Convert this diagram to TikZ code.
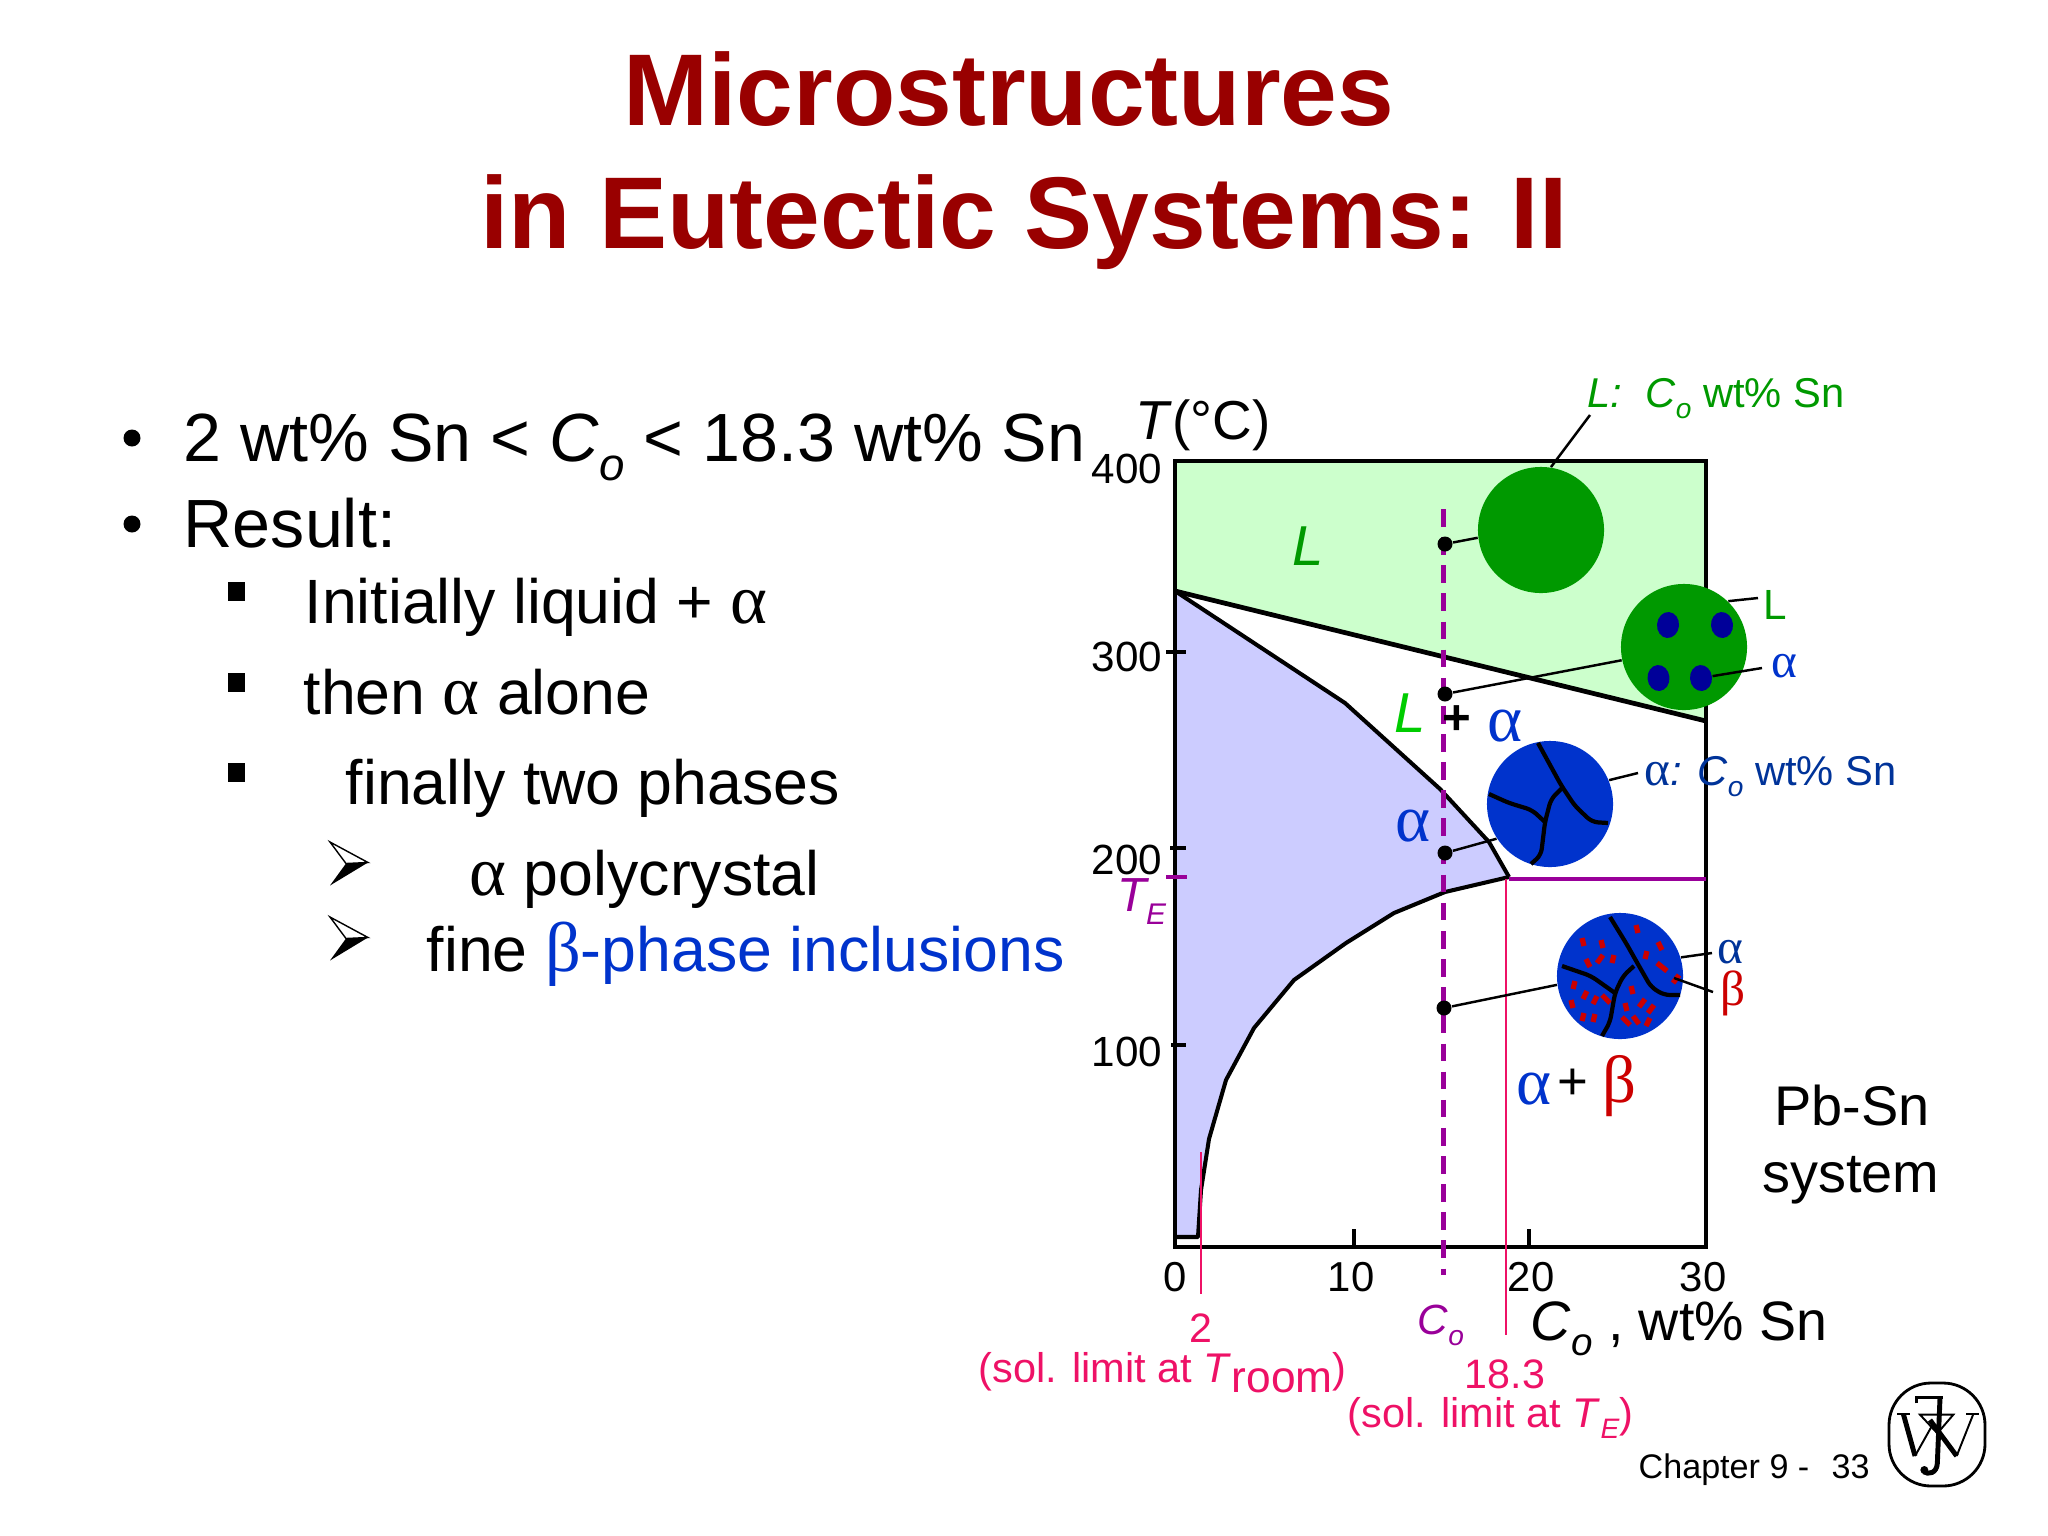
\documentclass[tikz,border=0pt]{standalone}
\usepackage{fontspec}
\setmainfont{Liberation Sans}
\newfontfamily\symb{Liberation Serif}
\usetikzlibrary{calc, shapes.geometric, arrows.meta, positioning}
\definecolor{titlered}{HTML}{990000}
\definecolor{liqgreen}{HTML}{CCFFCC}
\definecolor{solblue}{HTML}{CCCCFF}
\definecolor{grgreen}{HTML}{009900}
\definecolor{brgreen}{HTML}{00CC00}
\definecolor{grblue}{HTML}{0033CC}
\definecolor{navy}{HTML}{000099}
\definecolor{labblue}{HTML}{003399}
\definecolor{phred}{HTML}{CC0000}
\definecolor{purp}{HTML}{990099}
\definecolor{pink}{HTML}{EE1166}
\newcommand{\fs}[1]{\fontsize{#1}{#1}\selectfont}
\newcommand{\sbs}[2]{\raisebox{-0.28em}{\fs{#1}\textit{#2}}}
\newcommand{\grk}[1]{{\fs{20}\symb #1}}
\tikzset{
	txt/.style={inner sep=0pt, anchor=base west},
	ctr/.style={inner sep=0pt, anchor=base},
	rgt/.style={inner sep=0pt, anchor=base east},
	grain/.style={circle, minimum size=1.26cm, inner sep=0pt, fill=#1},
	blob/.style={ellipse, minimum width=0.22cm, minimum height=0.26cm, inner sep=0pt, fill=navy},
	dot/.style={circle, minimum size=0.15cm, inner sep=0pt, fill=black},
	leader/.style={line width=0.7pt},
	phase/.style={line width=1.15pt, line join=round},
	frame/.style={line width=1.35pt},
	boundary/.style={line width=1.2pt, line join=round, rounded corners=0.06cm},
	pinkline/.style={pink, line width=0.7pt}
}

\begin{document}
\begin{tikzpicture}[x=0.01cm, y=-0.01cm]
	\useasboundingbox (0,0) rectangle (2048,1536);

	\node[ctr, font=\fs{29}\bfseries, text=titlered] (title1) at (1009,125) {Microstructures};
	\node[ctr, font=\fs{29}\bfseries, text=titlered] (title2) at (1024,248) {in Eutectic Systems:\hspace{-1.4pt} II};

	\fill (132,438) circle (8.5);
	\fill (132,524) circle (8.5);
	\node[txt, font=\fs{19.4}] (item1) at (183,461) {2 wt\% Sn < \textit{C}\sbs{13}{o} < 18.3 wt\% Sn};
	\node[txt, font=\fs{19.4}] (item2) at (183,547) {Result:};
	\foreach \qy in {582,673,763}
		\fill (227.5,\qy) rectangle ++(17.5,18.5);
	\node[txt, font=\fs{17.8}] (sub1) at (304,623) {Initially liquid + \grk{α}};
	\node[txt, font=\fs{17.8}] (sub2) at (303,714) {then \grk{α} alone};
	\node[txt, font=\fs{17.8}] (sub3) at (345,804) {finally two phases};
	\foreach \ay in {842,917} {
		\draw[line width=0.4pt, fill=white] (330,\ay) -- (368,\ay+20.5) -- (346,\ay+21.5) -- cycle;
		\fill (330,\ay+43.5) -- (368,\ay+20.5) -- (346,\ay+21.5) -- cycle;
	}
	\node[txt, font=\fs{17.8}] (sub4) at (469,895) {\grk{α} polycrystal};
	\node[txt, font=\fs{17.8}] (sub5) at (426,971) {fine \textcolor{grblue}{\grk{β}-phase inclusions}};

	\fill[liqgreen] (1175,461) -- (1706,461) -- (1706,721) -- (1175,591) -- cycle;
	\fill[solblue] (1175,591) -- (1345,703) -- (1440,789) -- (1489,842) -- (1509,877)
		-- (1445,892) -- (1394,913) -- (1346,943) -- (1294,980) -- (1254,1028) -- (1226,1080)
		-- (1209,1139) -- (1201,1190) -- (1198,1237) -- (1175,1237) -- cycle;

	\draw[frame] (1175,461) rectangle (1706,1247);
	\draw[frame] (1175,591) -- (1706,721);
	\draw[phase] (1175,591) -- (1345,703) -- (1440,789) -- (1489,842) -- (1509,877);
	\draw[phase] (1509,877) -- (1445,892) -- (1394,913) -- (1346,943) -- (1294,980) -- (1254,1028)
		-- (1226,1080) -- (1209,1139) -- (1201,1190) -- (1198,1237) -- (1175,1237);
	\draw[purp, line width=1.1pt] (1509,879) -- (1706,879);

	\foreach \ty/\tx in {652/1166,848/1170,1045/1171}
		\draw[frame] (\tx,\ty) -- (1186,\ty);
	\foreach \tx in {1354,1529}
		\draw[frame] (\tx,1229) -- (\tx,1247);
	\draw[purp, frame] (1166,877) -- (1187,877);

	\foreach \ty/\lab in {483/400,671/300,874/200,1066/100}
		\node[rgt, font=\fs{12}] (ylab\lab) at (1163,\ty) {\lab};
	\foreach \tx/\lab in {1175/0,1351/10,1531/20,1703/30}
		\node[ctr, font=\fs{11.9}] (xlab\lab) at (\tx,1291) {\lab};

	\node[txt, font=\fs{15.6}] (ylabel) at (1135,439) {\textit{T}(°C)};
	\node[txt, font=\fs{15.8}] (xlabel) at (1530,1340) {\textit{C}\sbs{11}{o} , wt\% Sn};
	\node[txt, font=\fs{13.6}, text=purp] (telabel) at (1117,911) {\textit{T}\hspace{-1pt}\sbs{8.5}{E}};

	\draw[purp, line width=1.35pt, dash pattern=on 5pt off 3pt] (1443.5,509) -- (1443.5,1275);
	\draw[pinkline] (1201,1152) -- (1201,1294);
	\draw[pinkline] (1506,879) -- (1506,1335);

	\node[grain=grgreen] (circL) at (1541,530) {};
	\node[grain=grgreen] (circLA) at (1684,647) {};
	\node[grain=grblue] (circA) at (1550,804) {};
	\node[grain=grblue] (circAB) at (1620,976) {};

	\node[blob, rotate=-5] (blob1) at (1668,625) {};
	\node[blob, rotate=5] (blob2) at (1722,625) {};
	\node[blob, rotate=5] (blob3) at (1658.5,678) {};
	\node[blob, rotate=5] (blob4) at (1701,678) {};

	\draw[boundary] (1538,743) -- (1561,785) -- (1575,806) -- (1592,822) -- (1608,823);
	\draw[boundary] (1489,794) -- (1509,803) -- (1532,810) -- (1545,822);
	\draw[boundary] (1562,788) -- (1551,799) -- (1545,822) -- (1541,855) -- (1531,864);

	\foreach \sx/\sy/\sd in {1583/942/1,1602/944/1,1637/929/1,1660/946/2,1646/955/-1,1600/959/-3,1613/959/-1,1588/963/2,
		1662/967/5,1574/985/-1,1676/979/-3,1632/990/1,1585/995/-2,1595/1000/-2,1606/999/4,1572/1004/1,
		1626/1007/1,1642/1003/-3,1651/1009/-3,1594/1018/-1,1583/1017/-1,1626/1021/4,1636/1020/3,1648/1022/-2}
		\draw[phred, line width=1.5pt] (\sx-\sd,\sy-4) -- (\sx+\sd,\sy+4);

	\draw[boundary] (1610,917) -- (1626,943) -- (1639,966) -- (1651,987) -- (1664,995) -- (1680,995);
	\draw[boundary] (1562,966) -- (1591,976) -- (1615,993);
	\draw[boundary] (1634,966) -- (1623,976) -- (1615,993) -- (1610,1022) -- (1602,1036);

	\node[dot] (dotL) at (1445,544) {};
	\node[dot] (dotLA) at (1445,694) {};
	\node[dot] (dotA) at (1445,853) {};
	\node[dot] (dotAB) at (1444,1008) {};
	\draw[leader] (dotL) -- (circL.187);
	\draw[leader] (dotLA) -- (circLA.192);
	\draw[leader] (dotA) -- (circA.213);
	\draw[leader] (dotAB) -- (circAB.188);

	\node[txt, font=\fs{16}\itshape, text=grgreen] (regL) at (1292,565) {L};
	\node[txt, font=\fs{16}\itshape, text=brgreen] (regLA) at (1394,732) {L};
	\node[ctr, font=\fs{14}\bfseries] (regplus) at (1457,734) {+};
	\node[ctr, font=\fs{19}\symb, text=grblue] (regalpha) at (1505,741) {α};
	\node[ctr, font=\fs{19}\symb, text=grblue] (solalpha) at (1413,841) {α};
	\node[ctr, font=\fs{19}\symb, text=grblue] (twoalpha) at (1534,1104) {α};
	\node[ctr, font=\fs{15}] (twoplus) at (1573,1099) {+};
	\node[ctr, font=\fs{19}\symb, text=phred] (twobeta) at (1619,1102) {β};

	\node[txt, font=\fs{11.85}, text=grgreen] (lblL) at (1587,407) {\textit{L:}\ \ \textit{C}\sbs{8}{o} wt\% Sn};
	\node[txt, font=\fs{12}, text=grgreen] (lblLb) at (1763,619) {L};
	\node[txt, font=\fs{14}\symb, text=grblue] (lblAb) at (1771,677) {α};
	\node[txt, font=\fs{11.85}, text=labblue] (lblA) at (1644,785) {{\fs{14}\symb α}\textit{:} \textit{C}\sbs{8}{o} wt\% Sn};
	\node[txt, font=\fs{14}\symb, text=labblue] (lblAc) at (1717,963) {α};
	\node[txt, font=\fs{14}\symb, text=phred] (lblBc) at (1720,1005) {β};

	\coordinate (endL) at (1590,415);
	\coordinate (endLb) at (1758,598);
	\coordinate (endAb) at (1762,668);
	\coordinate (endA) at (1638,773);
	\coordinate (endAc) at (1712,953);
	\coordinate (endBc) at (1713,992);
	\coordinate (spkB) at (1674,978);
	\draw[leader] (endL) -- (circL.81);
	\draw[leader] (endLb) -- (circLA.46);
	\draw[leader] (endAb) -- (blob4);
	\draw[leader] (endA) -- (circA.22);
	\draw[leader] (endAc) -- (circAB.17);
	\draw[leader] (endBc) -- (spkB);

	\node[ctr, font=\fs{15.9}] (sys1) at (1852,1125) {Pb-Sn};
	\node[ctr, font=\fs{15.9}] (sys2) at (1851,1192) {system};

	\node[txt, font=\fs{12}, text=purp] (colabel) at (1417,1334) {\textit{C}\sbs{8}{o}};
	\node[ctr, font=\fs{11.7}, text=pink] (two) at (1201,1342) {2};
	\node[txt, font=\fs{11.8}, text=pink] (sol1) at (978,1382) {(sol. limit at \textit{T}\raisebox{-0.25em}{\fs{12.6}room})};
	\node[ctr, font=\fs{11.7}, text=pink] (eighteen) at (1505,1388) {18.3};
	\node[txt, font=\fs{11.8}, text=pink] (sol2) at (1347,1427) {(sol. limit at \textit{T}\sbs{8}{E})};

	\node[txt, font=\fs{9.7}] (chapter) at (1638,1478) {Chapter 9 -};
	\node[txt, font=\fs{9.7}] (page) at (1831,1478) {33};

	\draw[line width=0.8pt, rounded corners=0.42cm] (1889,1383) rectangle (1985,1486);
	\begin{scope}[shift={(1880,1370)}, scale=0.3333]
		\draw[line width=0.55pt] (52,132) -- (90,132);
		\draw[line width=0.55pt] (258,132) -- (296,132);
		\draw[line width=0.55pt] (120,134) -- (220,134) -- (172,190) -- cycle;
		\draw[line width=1.4pt] (70,132) -- (105,258);
		\draw[line width=0.55pt] (105,258) -- (160,160);
		\draw[line width=1.4pt] (150,150) -- (230,258);
		\draw[line width=0.55pt] (230,258) -- (280,132);
		\draw[line width=0.9pt] (110,100) -- (110,82) -- (190,82);
		\draw[line width=1.4pt] (180,84) -- (172,280) .. controls (170,310) and (145,315) .. (130,305);
		\fill (133,300) circle (12);
	\end{scope}
\end{tikzpicture}
\end{document}
